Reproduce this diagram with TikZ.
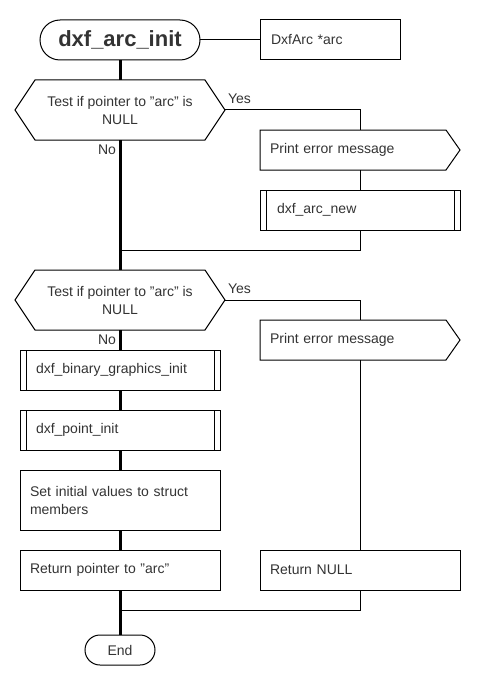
\documentclass[tikz,border=0pt]{standalone}
\usepackage{fontspec}
\setmainfont{Liberation Sans}
\usetikzlibrary{calc}
\definecolor{txt}{HTML}{333333}
\newcommand\subsidelines[1]{%
  \draw[thin line] ($(#1.north west)+(6,0)$) -- ($(#1.south west)+(6,0)$);
  \draw[thin line] ($(#1.north east)+(-6,0)$) -- ($(#1.south east)+(-6,0)$);}
\newcommand\hexoutline[1]{%
  \draw[thin line] (#1.west) -- ($(#1.north west)+(20,0)$) -- ($(#1.north east)+(-20,0)$) -- (#1.east)
    -- ($(#1.south east)+(-20,0)$) -- ($(#1.south west)+(20,0)$) -- cycle;}
\newcommand\pentoutline[1]{%
  \draw[thin line] (#1.north west) -- ($(#1.north east)+(-14,0)$) -- (#1.east)
    -- ($(#1.south east)+(-14,0)$) -- (#1.south west) -- cycle;}
\begin{document}
\begin{tikzpicture}[x=1pt,y=-1pt,
  base/.style={font=\fontsize{14}{18}\selectfont, text=txt, inner sep=0pt, outer sep=0pt},
  thin line/.style={line width=1pt, black},
  spine/.style={line width=3pt, black},
  box/.style={base, draw, line width=1pt, minimum width=200pt, minimum height=40pt, text width=180pt, align=left},
  subbox/.style={box, text width=168pt},
  argbox/.style={box, minimum width=140pt, text width=118pt},
  pent/.style={base, minimum width=200pt, minimum height=40pt, text width=180pt, align=left},
  hex/.style={base, minimum width=210pt, minimum height=60pt, align=center},
  term/.style={base, draw, line width=1pt, rounded corners=#1},
  lbl/.style={base}
]
\useasboundingbox (0,0) rectangle (480,690);

% nodes
\node[term=20pt, minimum width=160pt, minimum height=40pt, font=\fontsize{22}{24}\selectfont\bfseries] (start) at (120,40) {dxf\_arc\_init};
\node[argbox] (args) at (330,40) {DxfArc *arc};

\node[hex] (dec1) at (120,110) {Test if pointer to "arc" is\\NULL};
\hexoutline{dec1}
\node[pent] (pem1) at (360,150) {Print error message};
\pentoutline{pem1}
\node[subbox, text width=166pt] (new1) at (360,210) {dxf\_arc\_new};
\subsidelines{new1}
\coordinate (m1) at (120,250);

\node[hex] (dec2) at (120,300) {Test if pointer to "arc" is\\NULL};
\hexoutline{dec2}
\node[pent] (pem2) at (360,340) {Print error message};
\pentoutline{pem2}

\node[subbox] (bgi) at (120,370) {dxf\_binary\_graphics\_init};
\subsidelines{bgi}
\node[subbox] (pti) at (120,430) {dxf\_point\_init};
\subsidelines{pti}
\node[box, minimum height=60pt] (siv) at (120,500) {Set initial values to struct\\members};
\node[box] (rp) at (120,570) {Return pointer to "arc"};
\node[box] (rn) at (360,570) {Return NULL};
\coordinate (m2) at (120,610);
\node[term=15pt, minimum width=70pt, minimum height=30pt] (end) at (120,650) {End};

% labels
\node[lbl, anchor=west] (yes1) at (228,99) {Yes};
\node[lbl, anchor=east] (no1) at (116,150) {No};
\node[lbl, anchor=west] (yes2) at (228,289) {Yes};
\node[lbl, anchor=east] (no2) at (116,340) {No};

% connectors
\draw[thin line] (start.east) -- (args.west);
\draw[spine] (start.south) -- (dec1.north);
\draw[thin line] (dec1.east) -| (pem1.north);
\draw[thin line] (pem1.south) -- (new1.north);
\draw[thin line] (new1.south) |- (m1);
\draw[spine] (dec1.south) -- (dec2.north);
\draw[thin line] (dec2.east) -| (pem2.north);
\draw[thin line] (pem2.south) -- (rn.north);
\draw[spine] (dec2.south) -- (bgi.north);
\draw[spine] (bgi.south) -- (pti.north);
\draw[spine] (pti.south) -- (siv.north);
\draw[spine] (siv.south) -- (rp.north);
\draw[spine] (rp.south) -- (end.north);
\draw[thin line] (rn.south) |- (m2);
\end{tikzpicture}
\end{document}
